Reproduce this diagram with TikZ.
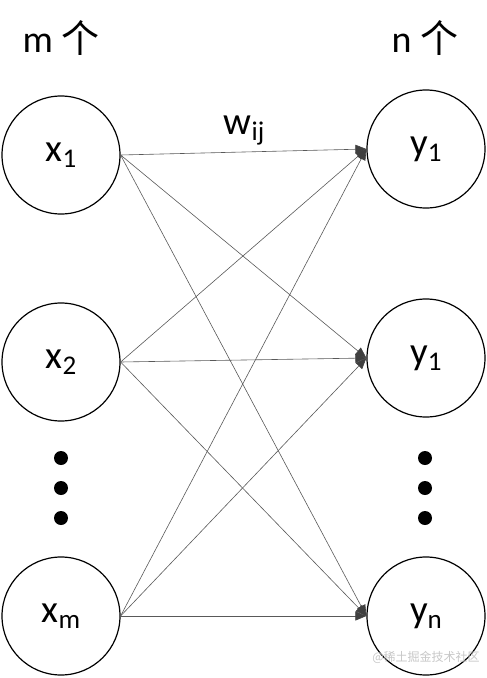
\documentclass[tikz,border=0pt]{standalone}
\usepackage{fontspec}
\setmainfont{Carlito}
\newfontfamily\cjk{Noto Sans CJK SC}
\usetikzlibrary{arrows.meta}
\newcommand{\bigtxt}[2]{{\fontsize{39}{39}\selectfont #1}{\fontsize{27}{27}\selectfont\raisebox{-6pt}{#2}}}
\begin{document}
\begin{tikzpicture}[x=1pt,y=1pt,
  neuron/.style={circle,draw=black,line width=1.2pt,minimum size=118pt,inner sep=0pt},
  dotn/.style={circle,fill=black,minimum size=14pt,inner sep=0pt},
  conn/.style={draw=black!65,line width=0.6pt,-{Triangle[length=11pt,width=9pt,fill=black!75,color=black!75]}},
  head/.style={inner sep=0pt,font=\fontsize{38}{38}\selectfont}]
\useasboundingbox (0,0) rectangle (487,-678);
\node[neuron] (x1) at (61,-155) {\raisebox{-5pt}{\bigtxt{x}{1}}};
\node[neuron] (x2) at (61,-362) {\raisebox{-5pt}{\bigtxt{x}{2}}};
\node[neuron] (xm) at (61,-616) {\raisebox{-5pt}{\bigtxt{x}{m}}};
\node[neuron] (y1) at (426,-149) {\raisebox{-2pt}{\bigtxt{y}{1}}};
\node[neuron] (y2) at (426,-358) {\raisebox{-2pt}{\bigtxt{y}{1}}};
\node[neuron] (yn) at (426,-616) {\raisebox{-2pt}{\bigtxt{y}{n}}};
\node[dotn] (dl1) at (61,-458) {};
\node[dotn] (dl2) at (61,-488) {};
\node[dotn] (dl3) at (61,-518) {};
\node[dotn] (dr1) at (425,-458) {};
\node[dotn] (dr2) at (425,-488) {};
\node[dotn] (dr3) at (425,-518) {};
\node[head] (mlab) at (61,-38) {m {\cjk 个}};
\node[head] (nlab) at (425,-38) {n {\cjk 个}};
\node[inner sep=0pt] (w) at (244,-130) {\bigtxt{w}{ij}};
\foreach \s in {x1,x2,xm}{
  \foreach \t in {y1,y2,yn}{
    \draw[conn] (\s.east) -- (\t.west);
  }
}
\node[text=black!22,font=\cjk\fontsize{12}{12}\selectfont] (wm) at (426,-657) {@稀土掘金技术社区};
\end{tikzpicture}
\end{document}
